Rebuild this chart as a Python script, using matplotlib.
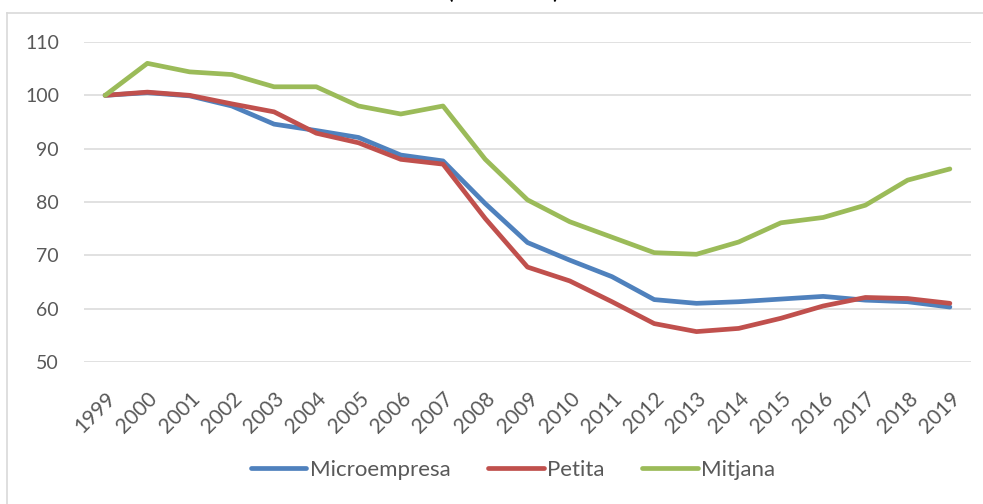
import matplotlib.pyplot as plt
from matplotlib.lines import Line2D

plt.rcParams['font.family'] = ['Lato', 'DejaVu Sans']

# Daten (Index 1999 = 100)
years = [str(y) for y in range(1999, 2020)]

microempresa = [100, 100.5, 99.9, 98.0, 94.6, 93.4, 92.1, 88.8, 87.7, 79.7, 72.4,
                69.1, 66.0, 61.7, 61.0, 61.3, 61.8, 62.3, 61.6, 61.3, 60.3]
petita = [100, 100.6, 100.0, 98.4, 96.9, 92.9, 91.1, 88.0, 87.1, 76.9, 67.8,
          65.2, 61.3, 57.2, 55.7, 56.3, 58.2, 60.5, 62.1, 61.9, 61.0]
mitjana = [100, 106.0, 104.4, 103.9, 101.6, 101.6, 98.0, 96.5, 98.0, 88.0, 80.4,
           76.3, 73.4, 70.5, 70.2, 72.5, 76.1, 77.1, 79.4, 84.1, 86.2]

y_ticks = [50, 60, 70, 80, 90, 100, 110]

fig = plt.figure(figsize=(9.83, 5.04), dpi=100)
ax = fig.add_axes([84 / 983, 1 - 362 / 504, (971 - 84) / 983, (362 - 42) / 504])

x = range(len(years))
ax.plot(x, microempresa, color='#4F81BD', lw=3.4, solid_capstyle='round', label='Microempresa')
ax.plot(x, petita, color='#C0504D', lw=3.4, solid_capstyle='round', label='Petita')
ax.plot(x, mitjana, color='#9BBB59', lw=3.4, solid_capstyle='round', label='Mitjana')

ax.set_xlim(-0.5, len(years) - 0.5)
ax.set_ylim(50, 110)
ax.set_yticks(y_ticks)
ax.set_xticks(list(x))
ax.set_xticklabels(years, rotation=45, ha='right', rotation_mode='anchor')
ax.tick_params(axis='both', length=0, labelsize=14, colors='#595959')
ax.tick_params(axis='y', pad=18)
ax.tick_params(axis='x', pad=19, labelsize=15)
ax.grid(axis='y', color='#D9D9D9', lw=1.1)
ax.set_axisbelow(True)
for s in ax.spines.values():
    s.set_visible(False)

# Rahmen (oben und links sichtbar)
fig.add_artist(Line2D([7 / 983, 1], [1 - 12.5 / 504] * 2, color='#D9D9D9', lw=1.2))
fig.add_artist(Line2D([7 / 983] * 2, [0, 1 - 12.5 / 504], color='#D9D9D9', lw=1.2))

# abgeschnittener Titel (im Original oben angeschnitten)
fig.text(503 / 983, 1.0 + 1 / 504, '(1999 = 100)', ha='center', va='baseline',
         fontsize=14, fontweight='bold')

fig.legend(loc='center', bbox_to_anchor=(513 / 983, 1 - 470 / 504), ncol=3,
           frameon=False, fontsize=16, handlelength=2.5, handletextpad=0.15,
           columnspacing=1.7, labelcolor='#595959')

fig.savefig('out.png', dpi=100)
